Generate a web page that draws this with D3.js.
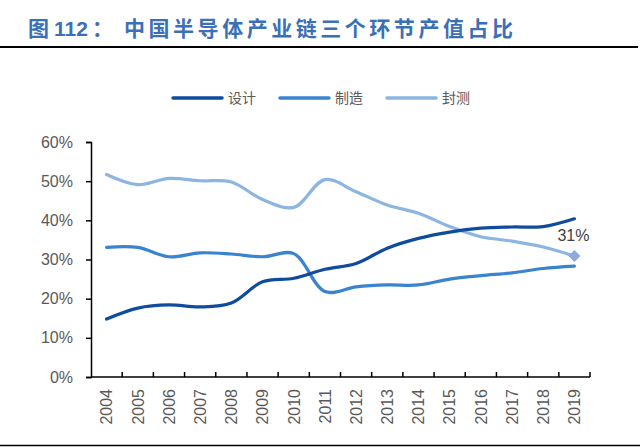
<!DOCTYPE html>
<html>
<head>
<meta charset="utf-8">
<script src="https://cdn.jsdelivr.net/npm/d3@7"></script>
<style>
  body { margin: 0; background: #fff; }
  svg { display: block; font-family: "Liberation Sans", Arial, sans-serif; }
</style>
</head>
<body>
<div id="plot_area"></div>
<script>
const years = ['2004','2005','2006','2007','2008','2009','2010','2011','2012','2013','2014','2015','2016','2017','2018','2019']
const design = [14.8, 17.6, 18.4, 17.9, 18.9, 24.3, 25.2, 27.5, 29.0, 32.9, 35.4, 37.0, 38.0, 38.3, 38.4, 40.4]
const manufacture = [33.1, 33.1, 30.7, 31.7, 31.4, 30.7, 31.5, 21.8, 23.0, 23.5, 23.5, 25.0, 25.9, 26.6, 27.7, 28.3]
const packaging = [51.7, 49.1, 50.7, 50.1, 49.8, 45.3, 43.3, 50.4, 47.3, 43.9, 41.8, 38.4, 35.8, 34.7, 33.2, 30.9]
const yTicks = [0, 10, 20, 30, 40, 50, 60]

const seriesNames = ['设计', '制造', '封测']
const seriesColors = ['#0f4c9e', '#3a84cf', '#8db5e2']

const svgWidth = 640, svgHeight = 447
const margin = { top: 142, right: 50, bottom: 70, left: 91 },
  chartWidth = 590 - margin.left,
  chartHeight = 377 - margin.top

const svg = d3.select('#plot_area').append('svg')
  .attr('width', svgWidth)
  .attr('height', svgHeight)

// title + rules
let title = svg.append('text')
  .attr('y', 36)
  .attr('font-family', '"Noto Sans CJK SC", sans-serif')
  .attr('font-size', 21)
  .attr('font-weight', 'bold')
  .attr('fill', '#3b70b7')
title.append('tspan')
  .attr('x', 28)
  .text('图')
title.append('tspan')
  .attr('x', 54)
  .attr('font-family', '"Liberation Sans", Arial, sans-serif')
  .text('112')
title.append('tspan')
  .attr('x', 92)
  .text('：')
title.append('tspan')
  .attr('x', 124)
  .attr('textLength', 389)
  .attr('lengthAdjust', 'spacing')
  .text('中国半导体产业链三个环节产值占比')

svg.append('line')
  .attr('x1', 0).attr('x2', 638)
  .attr('y1', 47).attr('y2', 47)
  .attr('stroke', '#000').attr('stroke-width', 2)

svg.append('line')
  .attr('x1', 0).attr('x2', 640)
  .attr('y1', 445.5).attr('y2', 445.5)
  .attr('stroke', '#000').attr('stroke-width', 1.5)

let chartGroup = svg.append('g')
  .attr('transform', `translate(${margin.left}, ${margin.top})`)

let xBand = d3.scaleBand()
  .domain(years)
  .range([0, chartWidth])

let yLinearScale = d3.scaleLinear()
  .domain([0, 60])
  .range([chartHeight, 0])

// y axis
let yAxis = chartGroup.append('g')
  .call(d3.axisLeft(yLinearScale).tickValues(yTicks).tickSize(5).tickPadding(13).tickFormat(d => d + '%'))
yAxis.select('.domain').attr('stroke', '#000').attr('stroke-width', 1.5)
yAxis.selectAll('.tick line').attr('stroke', '#000').attr('stroke-width', 1.5)
yAxis.selectAll('.tick text')
  .attr('font-size', 16)
  .attr('fill', '#595959')
  .attr('font-family', '"Liberation Sans", Arial, sans-serif')

// x axis, ticks at band edges
let xAxis = chartGroup.append('g')
  .attr('transform', `translate(0, ${chartHeight})`)
xAxis.append('line')
  .attr('x1', 0).attr('x2', chartWidth)
  .attr('stroke', '#000').attr('stroke-width', 1.5)
xAxis.selectAll('.edge')
  .data(years)
  .enter()
  .append('line')
  .attr('x1', d => xBand(d) + xBand.bandwidth())
  .attr('x2', d => xBand(d) + xBand.bandwidth())
  .attr('y1', 0).attr('y2', -5)
  .attr('stroke', '#000').attr('stroke-width', 1.5)
xAxis.selectAll('.lbl')
  .data(years)
  .enter()
  .append('text')
  .attr('transform', d => `translate(${xBand(d) + xBand.bandwidth() / 2 + 5.8}, 12) rotate(-90)`)
  .attr('text-anchor', 'end')
  .attr('font-size', 16)
  .attr('fill', '#595959')
  .text(d => d)

const xPos = (d, i) => xBand(years[i]) + xBand.bandwidth() / 2

const line = d3.line()
  .x(xPos)
  .y(d => yLinearScale(d))
  .curve(d3.curveCatmullRom.alpha(0.5))

;[packaging, manufacture, design].forEach((values, k) => {
  chartGroup.append('path')
    .datum(values)
    .attr('d', line)
    .attr('fill', 'none')
    .attr('stroke', seriesColors[2 - k])
    .attr('stroke-width', 3.2)
    .attr('stroke-linecap', 'round')
})

// end marker + label
let last = years.length - 1
chartGroup.append('path')
  .attr('d', d3.symbol().type(d3.symbolDiamond2).size(90))
  .attr('transform', `translate(${xPos(null, last)}, ${yLinearScale(packaging[last])})`)
  .attr('fill', '#8faadc')

chartGroup.append('text')
  .attr('x', xPos(null, last) - 1)
  .attr('y', yLinearScale(packaging[last]) - 14.5)
  .attr('text-anchor', 'middle')
  .attr('font-size', 16)
  .attr('fill', '#404040')
  .text(Math.round(packaging[last]) + '%')

// legend
let legendX = [173, 280, 387]
let legend = svg.append('g')
seriesNames.forEach((name, i) => {
  legend.append('line')
    .attr('x1', legendX[i]).attr('x2', legendX[i] + 49)
    .attr('y1', 98).attr('y2', 98)
    .attr('stroke', seriesColors[i])
    .attr('stroke-width', 3.5)
    .attr('stroke-linecap', 'round')
  legend.append('text')
    .attr('x', legendX[i] + 55)
    .attr('y', 103)
    .attr('font-family', '"Noto Sans CJK SC", sans-serif')
    .attr('font-size', 14)
    .attr('fill', '#595959')
    .text(name)
})
</script>
</body>
</html>
